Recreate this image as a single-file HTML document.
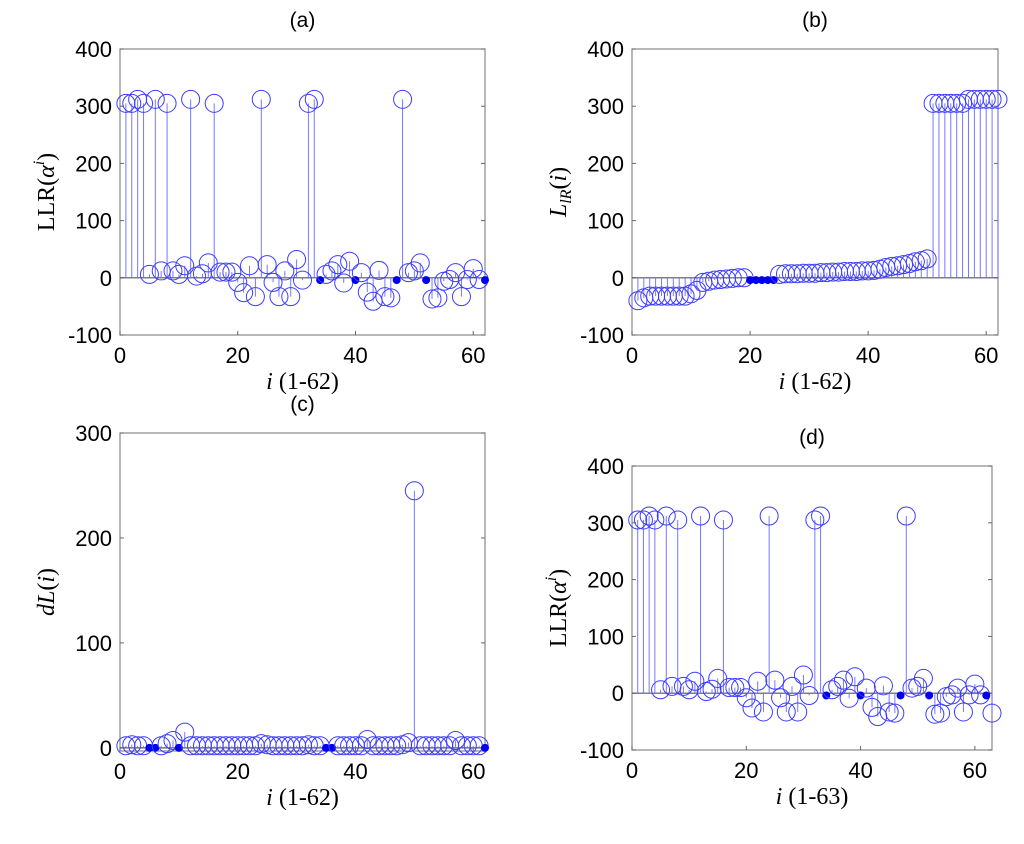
<!DOCTYPE html>
<html><head><meta charset="utf-8"><style>
body{margin:0;background:#fff;}
svg text{font-family:"Liberation Sans",sans-serif;}
</style></head><body>
<svg id="fig" width="1024" height="839" xmlns="http://www.w3.org/2000/svg"></svg>
<script>
const valsA=[305,305,312,305,6,312,12,305,12,6,21,312,3,7,26,305,10,10,10,-8,-26,21,-33,312,23,-8,-33,12,-33,32,-4,305,312,-4,6,12,23,-9,29,-4,9,-25,-41,13,-33,-35,-4,312,9,12,26,-4,-37,-35,-6,-3,9,-33,-3,16,-3,-4];
const filledA=[34,40,47,52,62];
const valsB=[-40,-35,-32,-32,-32,-32,-32,-32,-32,-28,-22,-8,-6,-4,-3,-2,-1,0,0,-4,-4,-4,-4,-4,6,7,7,7,8,8,8,9,9,10,10,11,11,11,12,12,13,15,18,20,21,23,25,28,30,33,305,305,305,305,305,305,312,312,312,312,312,312];
const filledB=[20,21,22,23,24];
const valsC=[2,3,2,2,0,0,2,4,7,0,15,2,2,2,2,2,2,2,2,2,2,2,2,4,3,2,2,2,2,2,2,3,2,2,0,0,2,2,2,2,2,8,2,2,2,2,2,3,5,245,2,2,2,2,2,2,7,2,2,2,2,0];
const filledC=[5,6,10,35,36,62];
const valsD=valsA.concat([-35]);
const filledD=[34,40,47,52,62];
const ticksX=[0,20,40,60];
const ticksY1=[-100,0,100,200,300,400];
const ticksY2=[0,100,200,300];

const svg=document.getElementById('fig');
const NS='http://www.w3.org/2000/svg';
function mk(tag,attrs,parent){const e=document.createElementNS(NS,tag);for(const k in attrs)e.setAttribute(k,attrs[k]);(parent||svg).appendChild(e);return e;}

function panel(id,p,vals,filled,yticks,title,ylab,xlab){
  const g=mk('g',{});
  
  
  const sx=v=>p.x0+(v-0)/(p.xmax)*(p.x1-p.x0);
  const sy=v=>p.y1-(v-p.ymin)/(p.ymax-p.ymin)*(p.y1-p.y0);
  const box=mk('rect',{x:p.x0,y:p.y0,width:p.x1-p.x0,height:p.y1-p.y0,fill:'none',stroke:'#888','stroke-width':1.2},g);
  
  
  ticksX.forEach(t=>{
    mk('line',{x1:sx(t),x2:sx(t),y1:p.y1,y2:p.y1-4,stroke:'#666'},g);
    const tx=mk('text',{x:sx(t),y:p.y1+28,'text-anchor':'middle','font-size':22},g);
    tx.textContent=t;
    
    
  });
  yticks.forEach(t=>{
    mk('line',{x1:p.x0,x2:p.x0+4,y1:sy(t),y2:sy(t),stroke:'#666'},g);
    mk('line',{x1:p.x1,x2:p.x1-4,y1:sy(t),y2:sy(t),stroke:'#666'},g);
    const tx=mk('text',{x:p.x0-8,y:sy(t)+8,'text-anchor':'end','font-size':22},g);
    tx.textContent=t;
    
    
  });
  const base=Math.max(0,p.ymin);
  mk('line',{x1:p.x0,x2:p.x1,y1:sy(base),y2:sy(base),stroke:'#555','stroke-width':1.2},g);
  vals.forEach((v,k)=>{
    const i=k+1;
    const st=mk('line',{x1:sx(i),x2:sx(i),y1:sy(base),y2:sy(v),stroke:'#7777ff','stroke-width':1},g);
    
    
  });
  vals.forEach((v,k)=>{
    const i=k+1;
    let c;
    if(filled.includes(i)) c=mk('circle',{cx:sx(i),cy:sy(v),r:4,fill:'#0000ee'},g);
    else c=mk('circle',{cx:sx(i),cy:sy(v),r:9,fill:'none',stroke:'#3d3dff','stroke-width':1},g);
    
    
  });
  const t=mk('text',{x:(p.x0+p.x1)/2,y:p.y0-22,'text-anchor':'middle','font-size':21},g);
  t.textContent=title;
  
  
  const xl=mk('text',{x:(p.x0+p.x1)/2,y:p.y1+54,'text-anchor':'middle','font-size':24,style:'font-family:"Liberation Serif",serif'},g);
  xl.innerHTML=xlab;
  
  
  const cy=(p.y0+p.y1)/2;
  const yl=mk('text',{x:p.x0-66,y:cy,'text-anchor':'middle','font-size':24,transform:`rotate(-90 ${p.x0-66} ${cy})`,style:'font-family:"Liberation Serif",serif'},g);
  yl.innerHTML=ylab;
  
  
}
const llr='LLR(<tspan font-style="italic">α</tspan><tspan font-style="italic" font-size="16" dy="-10">i</tspan><tspan dy="10">)</tspan>';
panel('a',{x0:120,x1:485,y0:49,y1:335,xmax:62,ymin:-100,ymax:400},valsA,filledA,ticksY1,'(a)',llr,'<tspan font-style="italic">i</tspan> (1-62)');
panel('b',{x0:632,x1:998,y0:49,y1:335,xmax:62,ymin:-100,ymax:400},valsB,filledB,ticksY1,'(b)','<tspan font-style="italic">L</tspan><tspan font-style="italic" font-size="16" dy="5">lR</tspan><tspan dy="-5">(</tspan><tspan font-style="italic">i</tspan>)','<tspan font-style="italic">i</tspan> (1-62)');
panel('c',{x0:120,x1:485,y0:433,y1:751,xmax:62,ymin:-3,ymax:300},valsC,filledC,ticksY2,'(c)','<tspan font-style="italic">dL</tspan>(<tspan font-style="italic">i</tspan>)','<tspan font-style="italic">i</tspan> (1-62)');
panel('d',{x0:632,x1:992,y0:466,y1:750,xmax:63,ymin:-100,ymax:400},valsD,filledD,ticksY1,'(d)',llr,'<tspan font-style="italic">i</tspan> (1-63)');
</script>
</body></html>
